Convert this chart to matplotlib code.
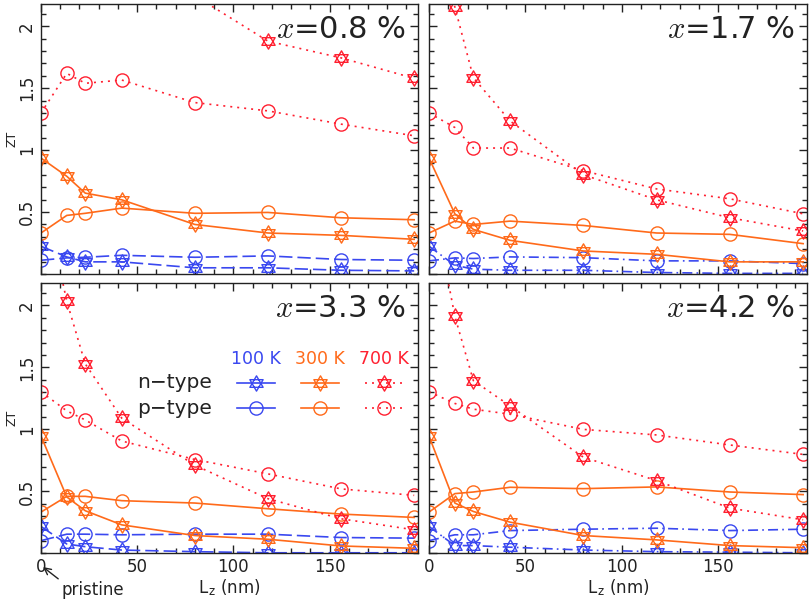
import numpy as np
import matplotlib
matplotlib.use("Agg")
import matplotlib.pyplot as plt
from matplotlib.path import Path
from matplotlib.lines import Line2D
from matplotlib.ticker import MultipleLocator

plt.rcParams['mathtext.fontset'] = 'cm'
plt.rcParams['font.family'] = ['DejaVu Sans']

# thickness L_z (nm)
lz = [0, 13.4, 23, 42, 80, 118, 156, 194]

# ZT values, one list per panel (x = 0.8, 1.7, 3.3, 4.2 %)
panels = ['0.8', '1.7', '3.3', '4.2']

n100 = [[0.224, 0.138, 0.098, 0.098, 0.05, 0.05, 0.03, 0.025],
        [0.224, 0.071, 0.039, 0.03, 0.03, 0.012, 0.005, 0.005],
        [0.217, 0.076, 0.054, 0.027, 0.014, 0.005, 0.005, 0.005],
        [0.217, 0.063, 0.063, 0.05, 0.027, 0.014, 0.01, 0.005]]
p100 = [[0.111, 0.13, 0.135, 0.151, 0.135, 0.146, 0.117, 0.111],
        [0.106, 0.13, 0.125, 0.138, 0.132, 0.106, 0.106, 0.084],
        [0.103, 0.155, 0.155, 0.15, 0.155, 0.155, 0.128, 0.123],
        [0.103, 0.15, 0.15, 0.184, 0.195, 0.203, 0.184, 0.195]]
n300 = [[0.936, 0.789, 0.653, 0.599, 0.40, 0.331, 0.312, 0.28],
        [0.936, 0.486, 0.36, 0.272, 0.186, 0.159, 0.098, 0.098],
        [0.946, 0.455, 0.344, 0.23, 0.144, 0.114, 0.06, 0.041],
        [0.946, 0.406, 0.338, 0.252, 0.144, 0.109, 0.063, 0.046]]
p300 = [[0.331, 0.473, 0.49, 0.532, 0.49, 0.497, 0.454, 0.438],
        [0.331, 0.427, 0.40, 0.427, 0.392, 0.331, 0.32, 0.245],
        [0.333, 0.46, 0.46, 0.425, 0.406, 0.36, 0.317, 0.29],
        [0.333, 0.482, 0.495, 0.533, 0.522, 0.536, 0.495, 0.474]]
n700 = [[3.0, 3.2, 3.0, 2.7, 2.247, 1.88, 1.745, 1.58],
        [3.0, 2.156, 1.585, 1.236, 0.802, 0.599, 0.454, 0.347],
        [3.0, 2.033, 1.528, 1.09, 0.711, 0.441, 0.279, 0.19],
        [3.0, 1.912, 1.393, 1.19, 0.776, 0.587, 0.365, 0.271]]
p700 = [[1.30, 1.62, 1.54, 1.566, 1.384, 1.317, 1.21, 1.116],
        [1.30, 1.183, 1.017, 1.017, 0.834, 0.687, 0.607, 0.486],
        [1.303, 1.149, 1.076, 0.906, 0.757, 0.641, 0.52, 0.468],
        [1.303, 1.209, 1.163, 1.122, 1.0, 0.955, 0.874, 0.798]]

temps = ['100 K', '300 K', '700 K']
blue = '#3a48f0'
orange = '#ff6a1a'
red = '#ff2030'
ink = '#222222'

# six-pointed star marker
star = Path([(0, 1), (-0.866, -0.5), (0.866, -0.5), (0, 1),
             (0, -1), (-0.866, 0.5), (0.866, 0.5), (0, -1)],
            [Path.MOVETO, Path.LINETO, Path.LINETO, Path.CLOSEPOLY,
             Path.MOVETO, Path.LINETO, Path.LINETO, Path.CLOSEPOLY])
ms_star = 11
ms_circ = 9.5

fig = plt.figure(figsize=(8.1, 6.06), dpi=100)
W, H = 810., 606.
boxes = [(41, 4, 418, 274), (429, 4, 807, 274),
         (41, 283, 418, 553.4), (429, 283, 807, 553.4)]

dash_b = (8, 3)
dashdot_b = (6, 2.5, 1, 2.5)
dot_r = (1.2, 3)

for i, (x0, y0, x1, y1) in enumerate(boxes):
    ax = fig.add_axes([x0 / W, 1 - y1 / H, (x1 - x0) / W, (y1 - y0) / H])
    bdash = dash_b if i in (0, 2) else dashdot_b
    kw = dict(mfc='none', mew=1.0, lw=1.2)
    ax.plot(lz, n100[i], color=blue, marker=star, ms=ms_star, dashes=bdash, mec=blue, **kw)
    ax.plot(lz, p100[i], color=blue, marker='o', ms=ms_circ, dashes=bdash, mec=blue, **kw)
    ax.plot(lz, n300[i], color=orange, marker=star, ms=ms_star, ls='-', mec=orange, **kw)
    ax.plot(lz, p300[i], color=orange, marker='o', ms=ms_circ, ls='-', mec=orange, **kw)
    ax.plot(lz, n700[i], color=red, marker=star, ms=ms_star, dashes=dot_r, mec=red, **kw)
    ax.plot(lz, p700[i], color=red, marker='o', ms=ms_circ, dashes=dot_r, mec=red, **kw)

    ax.set_xlim(0, 196)
    ax.set_ylim(0, 2.18)
    ax.xaxis.set_major_locator(MultipleLocator(50))
    ax.xaxis.set_minor_locator(MultipleLocator(10))
    ax.yaxis.set_major_locator(MultipleLocator(0.5))
    ax.yaxis.set_minor_locator(MultipleLocator(0.1))
    ax.tick_params(which='both', direction='in', top=True, right=True, width=1.0,
                   labelsize=12, colors=ink)
    ax.tick_params(which='major', length=6)
    ax.tick_params(which='minor', length=3.5)
    for s in ax.spines.values():
        s.set_linewidth(1.0)
        s.set_color(ink)

    if i % 2 == 0:
        ax.set_yticks([0.5, 1, 1.5, 2])
        ax.set_yticklabels(['0.5', '1', '1.5', '2'], rotation=90, va='center')
        ax.set_ylabel('ZT', fontsize=9, labelpad=0, color=ink)
    else:
        ax.set_yticklabels([])
    if i >= 2:
        ax.set_xticks([0, 50, 100, 150])
        ax.set_xticklabels(['0', '50', '100', '150'])
        ax.set_xlabel(r'L$_\mathregular{z}$ (nm)', fontsize=12, labelpad=1, color=ink)
    else:
        ax.set_xticklabels([])

    ax.text(0.968, 0.905, r'$x$=' + panels[i] + ' %', transform=ax.transAxes,
            ha='right', va='center', fontsize=22, color=ink)

    if i == 2:
        # legend block
        cols = [blue, orange, red]
        xs = [0.57, 0.74, 0.91]
        for t, c, xc in zip(temps, cols, xs):
            ax.text(xc, 0.719, t, color=c, fontsize=12.5, ha='center', va='center',
                    transform=ax.transAxes)
        ax.text(0.255, 0.631, 'n\u2212type', fontsize=14.5, ha='left', va='center',
                transform=ax.transAxes, color=ink)
        ax.text(0.255, 0.537, 'p\u2212type', fontsize=14.5, ha='left', va='center',
                transform=ax.transAxes, color=ink)
        styles = [dict(ls='-'), dict(ls='-'), dict(dashes=dot_r)]
        for c, xc, st in zip(cols, xs, styles):
            for yy, mk, ms in [(0.631, star, ms_star), (0.537, 'o', ms_circ)]:
                ax.add_line(Line2D([xc - 0.05, xc + 0.05], [yy, yy], color=c, lw=1.2,
                                   transform=ax.transAxes, **st))
                ax.add_line(Line2D([xc], [yy], color=c, marker=mk, ms=ms, mfc='none',
                                   mec=c, mew=1.0, ls='none', transform=ax.transAxes))
        ax.annotate('pristine', xy=(43 / W, 1 - 567 / H), xycoords='figure fraction',
                    xytext=(61 / W, 1 - 590 / H), textcoords='figure fraction',
                    fontsize=12, ha='left', va='center', color=ink,
                    arrowprops=dict(arrowstyle='->', color=ink, lw=1.0,
                                    shrinkA=0, shrinkB=0, relpos=(0, 1)))

fig.savefig('out.png', dpi=100)
